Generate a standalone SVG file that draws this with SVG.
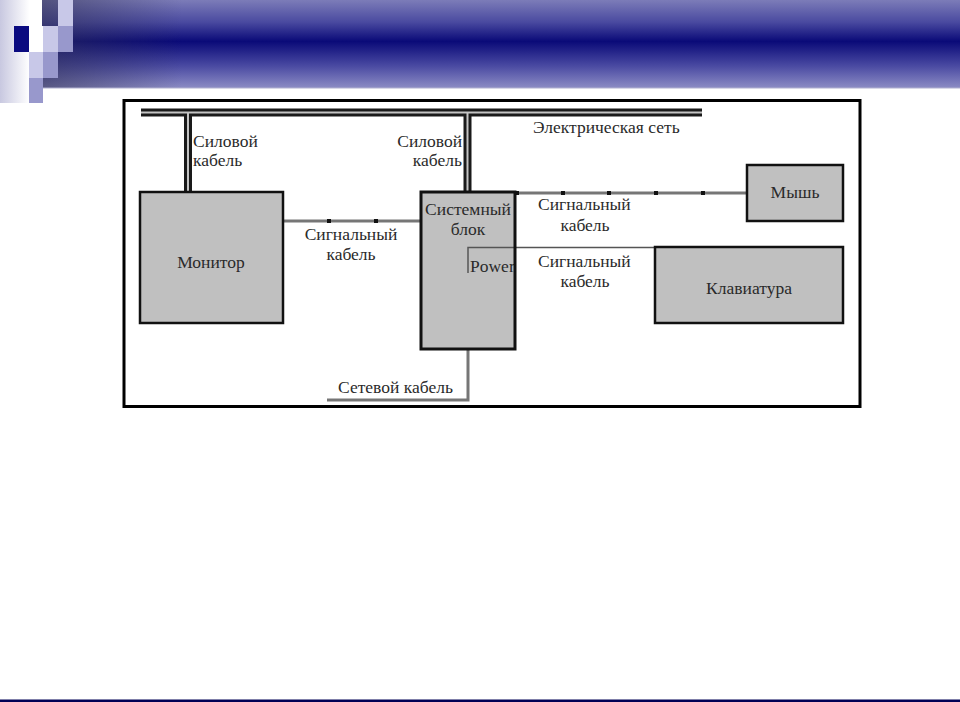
<svg xmlns="http://www.w3.org/2000/svg" width="960" height="702" viewBox="0 0 960 702">
<defs>
<linearGradient id="band" x1="0" y1="0" x2="0" y2="1">
<stop offset="0" stop-color="#7c7cb8"/>
<stop offset="0.25" stop-color="#4a4aa0"/>
<stop offset="0.47" stop-color="#0a0a78"/>
<stop offset="0.75" stop-color="#4a4aa2"/>
<stop offset="1" stop-color="#8c8cc4"/>
</linearGradient>
<linearGradient id="bandL" x1="0" y1="0" x2="1" y2="0">
<stop offset="0" stop-color="#303050" stop-opacity="0.55"/>
<stop offset="1" stop-color="#303050" stop-opacity="0"/>
</linearGradient>
<linearGradient id="fade" x1="0" y1="0" x2="1" y2="0">
<stop offset="0" stop-color="#c8c8e0"/>
<stop offset="0.7" stop-color="#ffffff"/>
<stop offset="1" stop-color="#ffffff"/>
</linearGradient>
<style>
text{font-family:"Liberation Serif","DejaVu Serif","Times New Roman",serif;font-size:17.5px;fill:#2a2a2a}
.box{fill:#c0c0c0;stroke:#111;stroke-width:2.5}
.sig{fill:none;stroke:#767676;stroke-width:3}
.thin{fill:none;stroke:#555;stroke-width:1.5}
.pw{fill:none;stroke:#1a1a1a;stroke-width:8}
.pwi{fill:none;stroke:#c4c4c4;stroke-width:2}
.dot{fill:#111}
.mid{text-anchor:middle}
.end{text-anchor:end}
</style>
</defs>
<rect width="960" height="702" fill="#ffffff"/>
<g id="header">
<rect x="0" y="0" width="42" height="103" fill="url(#fade)"/>
<rect x="42" y="0" width="918" height="88" fill="url(#band)"/>
<rect x="42" y="0" width="140" height="88" fill="url(#bandL)"/>
<rect x="42" y="87.5" width="918" height="1" fill="#b0b0d0"/>
<rect x="14" y="26" width="15" height="26" fill="#0a0a80"/>
<rect x="29" y="26" width="14" height="26" fill="#ffffff"/>
<rect x="43" y="26" width="15" height="26" fill="#c8c8e8"/>
<rect x="58" y="0" width="15" height="26" fill="#c8c8e8"/>
<rect x="58" y="26" width="15" height="26" fill="#9898cc"/>
<rect x="29" y="52" width="14" height="26" fill="#c8c8e8"/>
<rect x="43" y="52" width="15" height="26" fill="#9898cc"/>
<rect x="29" y="78" width="14" height="25" fill="#9898cc"/>
</g>
<rect x="0" y="699.5" width="960" height="2.5" fill="#000055"/>
<rect id="frame" x="124" y="100.5" width="736" height="306" fill="#ffffff" stroke="#000" stroke-width="3"/>
<g id="connectors">
<path class="pw" d="M141,112.5 H702 M188,112.5 V192 M467.5,112.5 V192"/>
<path class="pwi" d="M141,112.5 H702 M188,112.5 V192 M467.5,112.5 V192"/>
<path class="sig" d="M283,221 H421"/>
<rect class="dot" x="327" y="219" width="4" height="4"/>
<rect class="dot" x="374" y="219" width="4" height="4"/>
<path class="sig" d="M515,193 H747"/>
<rect class="dot" x="515" y="191" width="4" height="4"/>
<rect class="dot" x="561" y="191" width="4" height="4"/>
<rect class="dot" x="607" y="191" width="4" height="4"/>
<rect class="dot" x="654" y="191" width="4" height="4"/>
<rect class="dot" x="701" y="191" width="4" height="4"/>
<path class="thin" d="M515,247.5 H655"/>
<path class="sig" d="M468,349 V400 H327"/>
</g>
<g id="labels">
<text x="193" y="147">Силовой</text>
<text x="193" y="166">кабель</text>
<text class="end" x="462" y="147">Силовой</text>
<text class="end" x="462" y="166">кабель</text>
<text x="533" y="133">Электрическая сеть</text>
<text class="mid" x="351" y="240">Сигнальный</text>
<text class="mid" x="351" y="260">кабель</text>
<text x="538" y="210">Сигнальный</text>
<text class="mid" x="585" y="231">кабель</text>
<text x="538" y="267">Сигнальный</text>
<text class="mid" x="585" y="287">кабель</text>
<text x="338" y="393">Сетевой кабель</text>
</g>
<g id="monitor">
<rect class="box" x="140" y="192" width="143" height="131"/>
<text class="mid" x="211" y="268">Монитор</text>
</g>
<g id="system">
<rect x="421" y="192" width="94" height="157" fill="#c0c0c0"/>
<text class="mid" x="468" y="215">Системный</text>
<text class="mid" x="468" y="235">блок</text>
<path class="thin" d="M468,273 V247.5 H515"/>
<text x="470" y="272">Power</text>
<rect x="421" y="192" width="94" height="157" fill="none" stroke="#111" stroke-width="3"/>
</g>
<g id="mouse">
<rect class="box" x="747" y="165" width="96" height="56"/>
<text class="mid" x="795" y="198">Мышь</text>
</g>
<g id="keyboard">
<rect class="box" x="655" y="247" width="188" height="76"/>
<text class="mid" x="749" y="294">Клавиатура</text>
</g>
</svg>
